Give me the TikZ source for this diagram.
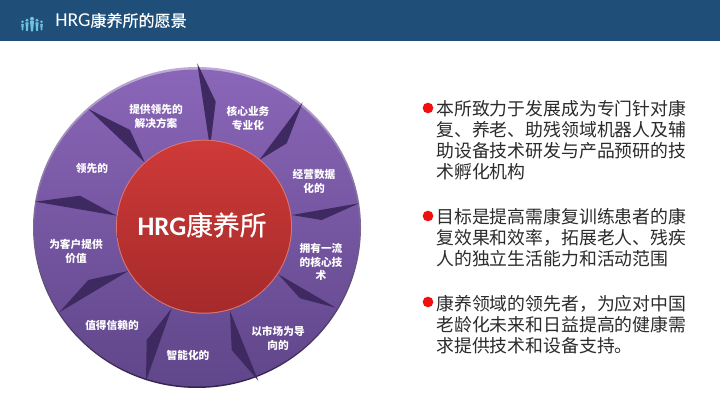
\documentclass[tikz,border=0pt]{standalone}
\usepackage{fontspec}
\setmainfont{Noto Sans CJK SC}
\newfontfamily\latinfont{Carlito}
\newfontfamily\medfont[FakeBold=0.5]{Noto Sans CJK SC}
\definecolor{headblue}{HTML}{1F4E79}
\definecolor{icblue}{HTML}{6FC3E0}
\definecolor{discTop}{HTML}{8A66B8}
\definecolor{discBot}{HTML}{60468A}
\definecolor{spikeCol}{HTML}{3E2A60}
\definecolor{redTop}{HTML}{CE3A38}
\definecolor{redBot}{HTML}{A52A2A}
\definecolor{bodyCol}{HTML}{2B2B2B}
\definecolor{bulletRed}{HTML}{F01010}
\tikzset{
  disclabel/.style={text=white,align=center,inner sep=0pt,font=\fontsize{7.6}{9.9}\selectfont\bfseries},
  bodytext/.style={text=bodyCol,align=left,anchor=north west,inner sep=0pt,font=\fontsize{12.7}{14.9}\selectfont},
  bulletdot/.style={circle,inner sep=0pt,minimum size=7.6pt,fill=bulletRed},
  spike/.style={fill=spikeCol,draw=none}
}
\begin{document}
\begin{tikzpicture}[x=0.025cm,y=-0.025cm]
\useasboundingbox (0,0) rectangle (720,405);
\fill[white] (0,0) rectangle (720,405);
\fill[headblue] (0,0) rectangle (720,41);
% icon
\foreach \px/\py/\ph/\pw in {22.5/24/6.5/1.3,27/22.5/8.5/1.6,32/21/10.5/2,37/22.5/8.5/1.6,41.5/24/6.5/1.3}{
  \fill[icblue] (\px,\py-2.2) circle [radius=\pw];
  \fill[icblue] (\px-\pw,\py) -- (\px+\pw,\py) -- (\px+0.5*\pw,\py+\ph) -- (\px-0.5*\pw,\py+\ph) -- cycle;
}
\node (title) at (55,20.5) [anchor=west,inner sep=0pt,text=white,font=\fontsize{11.4}{13}\selectfont\medfont] {{\latinfont\fontsize{14}{13}\selectfont HRG}康养所的愿景};
% disc
\shade[top color=discTop!55!white,bottom color=spikeCol!80!black] (197,227.5) circle [x radius=164,y radius=160.5];
\shade[top color=discTop,bottom color=discBot] (197,228) circle [x radius=162.5,y radius=158.5];
% spikes
\foreach \tipx/\tipy/\kx/\ky/\inx/\iny in {197.3/63.3/215.7/101.7/210/148,
  302.7/102.3/286.7/143.3/259.3/160,
  359/203.3/321.7/220/291.7/215,
  335.7/307.7/300/298.3/278.3/274.3,
  258.3/380.7/231.7/350/230/311,
  146/381/146.7/340/171.7/308.3,
  59.3/312.3/88.3/280/128.3/271,
  35/201.7/80/195.7/116.7/215.7,
  88.3/109/130/130/145/162.7}{
  \fill[spike] (\tipx,\tipy) -- (\kx,\ky) -- (\inx,\iny) -- cycle;
}
% centre
\fill[redTop!70!white] (204,226.7) circle [x radius=88,y radius=87];
\shade[top color=redTop,bottom color=redBot] (204,226.7) circle [x radius=87,y radius=86];
\node (hub) at (202,225) [inner sep=0pt,text=white,font=\fontsize{19}{22}\selectfont\medfont] {{\latinfont\bfseries HRG}康养所};
% labels
\node (lb1) at (156,116) [disclabel] {提供领先的\\解决方案};
\node (lb2) at (248,118) [disclabel] {核心业务\\专业化};
\node (lb3) at (314,181) [disclabel] {经营数据\\化的};
\node (lb4) at (321,262) [disclabel] {拥有一流\\的核心技\\术};
\node (lb5) at (278,338) [disclabel] {以市场为导\\向的};
\node (lb6) at (188,355) [disclabel] {智能化的};
\node (lb7) at (112,325) [disclabel] {值得信赖的};
\node (lb8) at (76,251) [disclabel] {为客户提供\\价值};
\node (lb9) at (92,168) [disclabel] {领先的};
% right text
\node (dot1) at (428,108) [bulletdot] {};
\node (para1) at (436,100) [bodytext] {本所致力于发展成为专门针对康\\复、养老、助残领域机器人及辅\\助设备技术研发与产品预研的技\\术孵化机构};
\node (dot2) at (428,216) [bulletdot] {};
\node (para2) at (436,208) [bodytext] {目标是提高需康复训练患者的康\\复效果和效率，拓展老人、残疾\\人的独立生活能力和活动范围};
\node (dot3) at (428,302) [bulletdot] {};
\node (para3) at (436,295) [bodytext] {康养领域的领先者，为应对中国\\老龄化未来和日益提高的健康需\\求提供技术和设备支持。};
\end{tikzpicture}
\end{document}
